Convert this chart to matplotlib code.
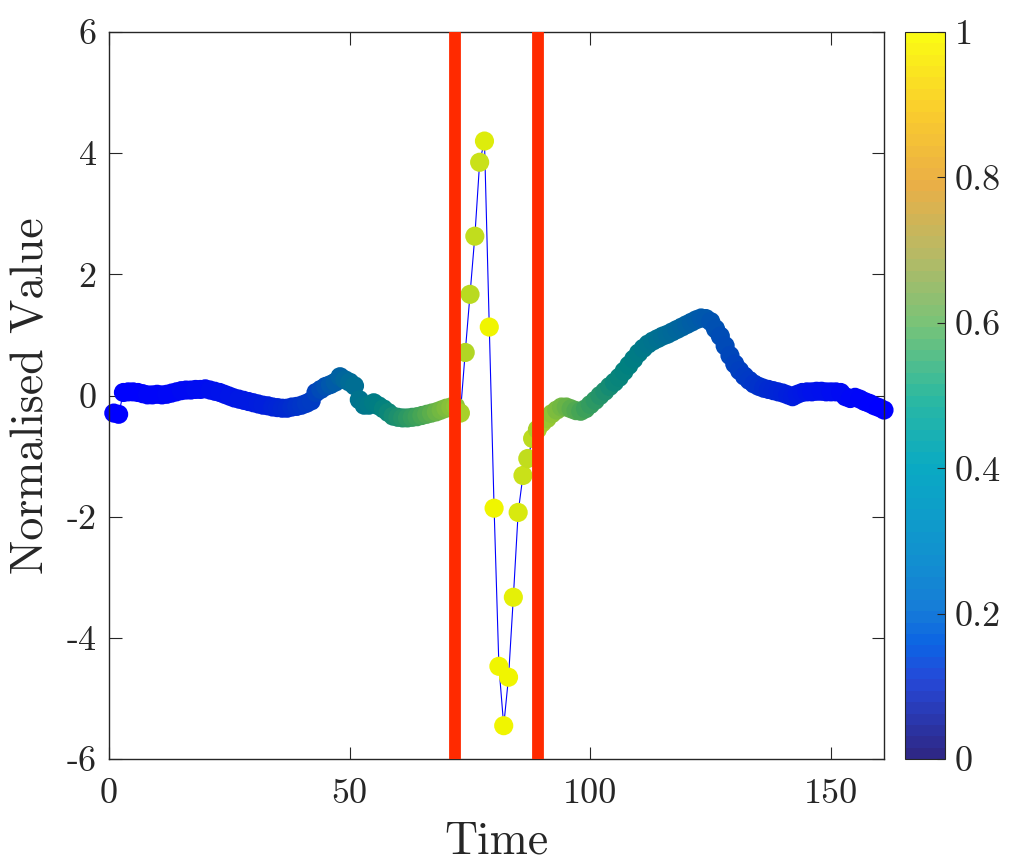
import matplotlib
matplotlib.use("Agg")
import matplotlib.pyplot as plt
import numpy as np
from matplotlib.colors import LinearSegmentedColormap, ListedColormap, Normalize
from matplotlib.cm import ScalarMappable

plt.rcParams['font.family'] = ['cmr10', 'DejaVu Serif']
plt.rcParams['axes.unicode_minus'] = False

# normalised signal, one value per time step (t = 1..161)
values = [
    -0.29, -0.31, 0.05, 0.06, 0.06, 0.05, 0.03, 0.01, 0.01, 0.02,
    0.01, 0.02, 0.04, 0.06, 0.08, 0.09, 0.09, 0.10, 0.10, 0.11,
    0.09, 0.07, 0.05, 0.02, -0.01, -0.04, -0.06, -0.08, -0.10, -0.12,
    -0.14, -0.16, -0.17, -0.19, -0.20, -0.21, -0.21, -0.19, -0.18, -0.16,
    -0.13, -0.09, 0.05, 0.10, 0.15, 0.18, 0.22, 0.31, 0.26, 0.22,
    0.16, -0.07, -0.16, -0.16, -0.12, -0.17, -0.22, -0.28, -0.34, -0.36,
    -0.37, -0.37, -0.36, -0.35, -0.33, -0.31, -0.29, -0.27, -0.24, -0.21,
    -0.19, -0.18, -0.29, 0.71, 1.67, 2.63, 3.85, 4.20, 1.13, -1.86,
    -4.47, -5.45, -4.65, -3.33, -1.93, -1.32, -1.04, -0.71, -0.56, -0.45,
    -0.38, -0.30, -0.24, -0.19, -0.19, -0.22, -0.25, -0.26, -0.22, -0.15,
    -0.08, 0.00, 0.07, 0.15, 0.22, 0.30, 0.40, 0.50, 0.60, 0.70,
    0.78, 0.85, 0.90, 0.94, 0.98, 1.01, 1.05, 1.09, 1.13, 1.17,
    1.21, 1.25, 1.28, 1.27, 1.22, 1.10, 0.98, 0.82, 0.66, 0.52,
    0.41, 0.32, 0.25, 0.19, 0.15, 0.12, 0.10, 0.08, 0.06, 0.04,
    0.01, -0.02, 0.02, 0.05, 0.06, 0.06, 0.07, 0.07, 0.06, 0.06,
    0.06, 0.05, -0.02, -0.05, -0.03, -0.06, -0.10, -0.13, -0.17, -0.20,
    -0.24,
]

# anomaly score per time step (drives marker colour)
scores = [
    0.00, 0.00, 0.01, 0.01, 0.01, 0.01, 0.01, 0.02, 0.02, 0.02,
    0.02, 0.03, 0.03, 0.03, 0.04, 0.04, 0.04, 0.05, 0.05, 0.05,
    0.06, 0.06, 0.07, 0.07, 0.08, 0.08, 0.09, 0.09, 0.10, 0.10,
    0.11, 0.12, 0.12, 0.13, 0.14, 0.15, 0.16, 0.17, 0.18, 0.19,
    0.20, 0.21, 0.23, 0.25, 0.27, 0.29, 0.31, 0.33, 0.35, 0.37,
    0.38, 0.40, 0.41, 0.42, 0.43, 0.44, 0.46, 0.48, 0.50, 0.52,
    0.54, 0.56, 0.58, 0.60, 0.62, 0.64, 0.66, 0.68, 0.70, 0.72,
    0.74, 0.76, 0.82, 0.84, 0.86, 0.88, 0.90, 0.95, 1.00, 1.00,
    1.00, 1.00, 1.00, 0.97, 0.94, 0.90, 0.88, 0.87, 0.82, 0.80,
    0.77, 0.75, 0.72, 0.70, 0.68, 0.66, 0.64, 0.62, 0.60, 0.58,
    0.56, 0.54, 0.52, 0.50, 0.48, 0.47, 0.46, 0.45, 0.44, 0.43,
    0.42, 0.41, 0.40, 0.39, 0.38, 0.37, 0.36, 0.35, 0.34, 0.33,
    0.32, 0.31, 0.30, 0.29, 0.28, 0.27, 0.26, 0.25, 0.24, 0.23,
    0.22, 0.21, 0.20, 0.19, 0.18, 0.17, 0.16, 0.15, 0.14, 0.13,
    0.12, 0.11, 0.10, 0.09, 0.08, 0.07, 0.07, 0.06, 0.06, 0.05,
    0.05, 0.04, 0.04, 0.03, 0.03, 0.02, 0.02, 0.01, 0.01, 0.00,
    0.00,
]

window = [71.8, 89.2]          # red markers around the event
xticks = [0, 50, 100, 150]
yticks = [-6, -4, -2, 0, 2, 4, 6]
cbar_ticks = [0, 0.2, 0.4, 0.6, 0.8, 1]

t = np.arange(1, len(values) + 1)

# colours for the points: blue -> teal -> green -> yellow
pt_anchor = [(0.0, (0, 0, 255)), (0.15, (0, 40, 210)), (0.3, (0, 90, 170)),
             (0.45, (0, 128, 128)), (0.6, (60, 160, 90)), (0.75, (140, 195, 55)),
             (0.9, (200, 225, 25)), (1.0, (240, 245, 0))]
pt_cmap = LinearSegmentedColormap.from_list(
    'pts', [(p, tuple(c / 255 for c in col)) for p, col in pt_anchor])

# parula-ish map for the colour bar (64 steps like matlab)
cb_anchor = [(0.0, (46, 40, 135)), (0.1, (38, 72, 215)), (0.15, (12, 100, 228)),
             (0.2, (22, 125, 215)), (0.3, (16, 150, 205)), (0.4, (10, 170, 195)),
             (0.5, (45, 185, 160)), (0.6, (120, 195, 120)), (0.7, (185, 185, 100)),
             (0.8, (235, 175, 70)), (0.9, (250, 205, 45)), (1.0, (250, 250, 20))]
cb_smooth = LinearSegmentedColormap.from_list(
    'cb', [(p, tuple(c / 255 for c in col)) for p, col in cb_anchor])
cb_cmap = ListedColormap(cb_smooth(np.linspace(0, 1, 64)))

fig = plt.figure(figsize=(10.15, 8.66), dpi=100)
ax = fig.add_axes([109 / 1015, 107 / 866, 775 / 1015, 727 / 866])

ax.plot(t, values, color='blue', linewidth=0.8, zorder=1)
ax.scatter(t, values, c=scores, cmap=pt_cmap, vmin=0, vmax=1, s=190,
           linewidths=0, zorder=2, clip_on=False)
for w in window:
    ax.axvline(w, color='#ff2a00', linewidth=8.5, zorder=3)

ax.set_xlim(0, 161)
ax.set_ylim(-6, 6)
ax.set_xticks(xticks)
ax.set_xticklabels([str(v) for v in xticks])
ax.set_yticks(yticks)
ax.set_yticklabels([str(v) for v in yticks])
ax.tick_params(direction='in', top=True, right=True, length=9, width=0.8,
               labelsize=26, colors='#262626', pad=9)
ax.tick_params(axis='x', pad=14)
for sp in ax.spines.values():
    sp.set_linewidth(1.0)
    sp.set_color('#262626')
ax.set_xlabel('Time', fontsize=33, color='#262626', labelpad=8)
ax.set_ylabel('Normalised Value', fontsize=33, color='#262626', labelpad=10)

cax = fig.add_axes([905 / 1015, 107 / 866, 40 / 1015, 727 / 866])
cb = fig.colorbar(ScalarMappable(norm=Normalize(0, 1), cmap=cb_cmap), cax=cax)
cb.set_ticks(cbar_ticks)
cb.set_ticklabels(['0', '0.2', '0.4', '0.6', '0.8', '1'])
cb.ax.tick_params(direction='in', length=6, width=0.8, labelsize=26,
                  colors='#262626', pad=7)
cb.outline.set_linewidth(0.8)
cb.outline.set_edgecolor('#262626')

fig.savefig('out.png', dpi=100)
